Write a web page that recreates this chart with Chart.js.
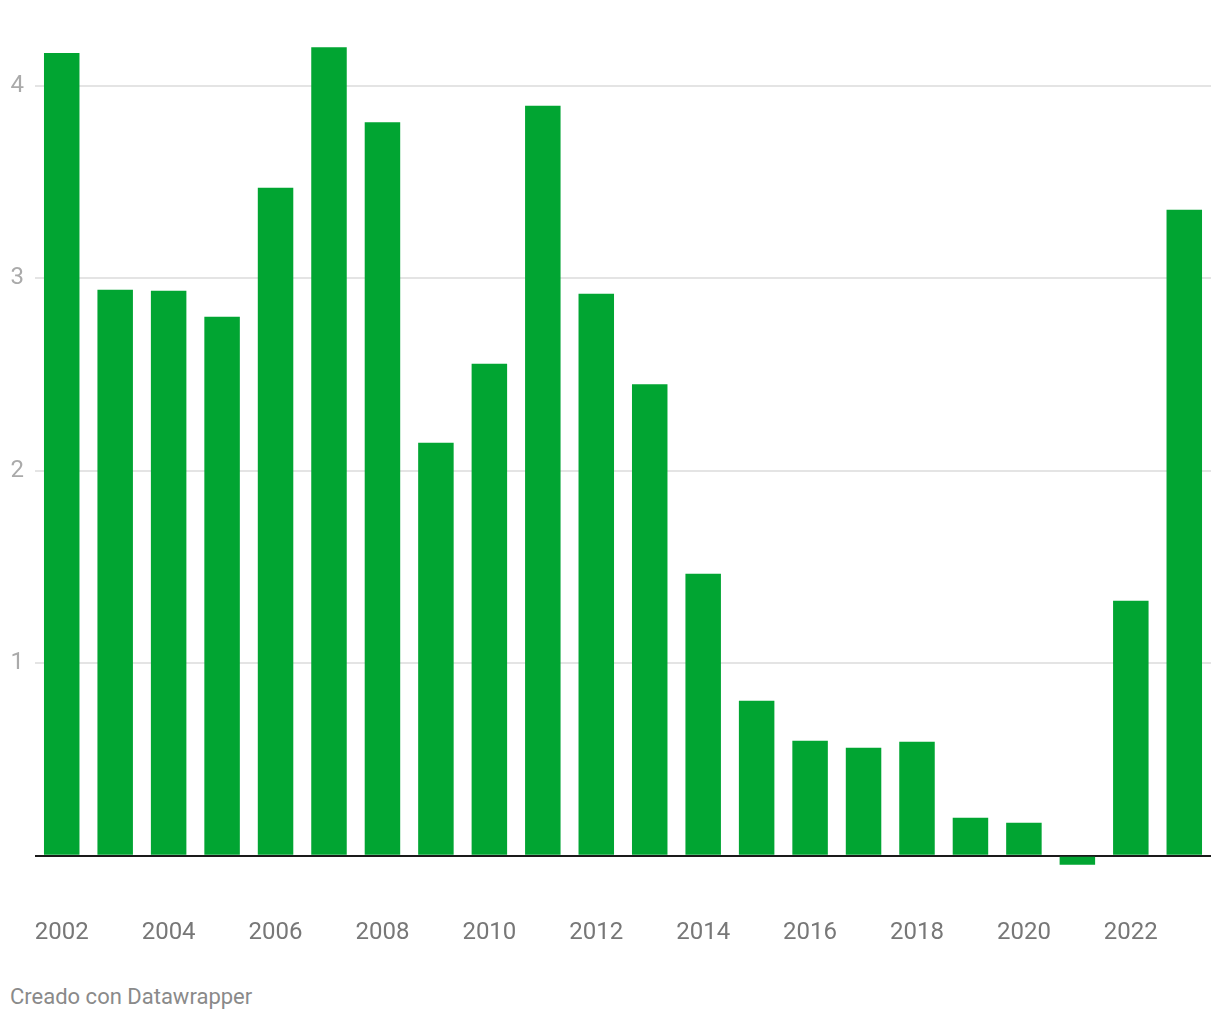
<!DOCTYPE html>
<html>
<head>
<meta charset="utf-8">
<script src="https://cdn.jsdelivr.net/npm/chart.js@4"></script>
<style>
  html, body { margin: 0; padding: 0; background: #fff; }
  #wrap { position: relative; width: 1220px; height: 960px; }
  #footer { position: absolute; left: 10px; top: 984px; font-family: Roboto, sans-serif; font-size: 22px; color: #8a8a8a; }
</style>
</head>
<body>
<div id="wrap"><canvas id="c"></canvas></div>
<div id="footer">Creado con Datawrapper</div>
<script>
const years = ['2002','2003','2004','2005','2006','2007','2008','2009','2010','2011','2012','2013','2014','2015','2016','2017','2018','2019','2020','2021','2022','2023'];
const values = [4.17, 2.94, 2.935, 2.80, 3.47, 4.20, 3.81, 2.145, 2.556, 3.896, 2.92, 2.45, 1.465, 0.805, 0.597, 0.561, 0.592, 0.197, 0.171, -0.047, 1.325, 3.356];
const yTicks = [0, 1, 2, 3, 4];

new Chart(document.getElementById('c'), {
  type: 'bar',
  data: {
    labels: years,
    datasets: [{
      data: values,
      backgroundColor: '#01a532',
      borderWidth: 0,
      categoryPercentage: 1,
      barPercentage: 0.664
    }]
  },
  options: {
    responsive: true,
    maintainAspectRatio: false,
    animation: false,
    layout: { padding: { top: 28, right: 9, left: 0, bottom: 0 } },
    plugins: { legend: { display: false }, tooltip: { enabled: false } },
    scales: {
      x: {
        offset: true,
        grid: { display: false, drawTicks: false },
        border: { display: false },
        ticks: {
          autoSkip: false,
          maxRotation: 0,
          padding: 44,
          color: '#777',
          font: { family: 'Roboto', size: 24 },
          callback: function(v, i) { return i % 2 === 0 ? years[i] : ''; }
        },
        afterFit: function(s) { s.height = 85; s.paddingLeft = 0; s.paddingRight = 0; }
      },
      y: {
        min: -0.1,
        max: 4.3,
        afterBuildTicks: function(s) { s.ticks = yTicks.map(v => ({ value: v })); },
        grid: {
          drawTicks: false,
          color: function(ctx) { return ctx.tick && ctx.tick.value === 0 ? '#1a1a1a' : '#e4e4e4'; },
          lineWidth: function(ctx) { return 2; }
        },
        border: { display: false },
        ticks: {
          padding: 11,
          color: '#aaa',
          font: { family: 'Roboto', size: 24 },
          callback: function(v) { return v === 0 ? '' : String(v); }
        },
        afterFit: function(s) { s.width = 35; s.paddingTop = 0; s.paddingBottom = 0; }
      }
    }
  }
});
</script>
</body>
</html>
